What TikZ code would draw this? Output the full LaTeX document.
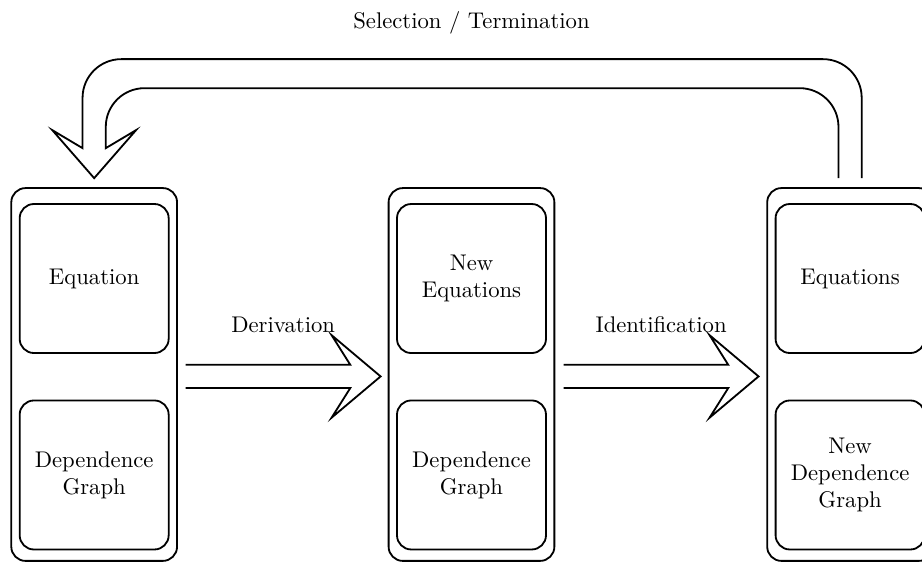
\documentclass[tikz,border=0pt]{standalone}
\usepackage{tikz}
\usetikzlibrary{calc}

\begin{document}
\begin{tikzpicture}[thick]
\tikzstyle{every node}+=[align=center]
\tikzset{
  frame/.style={draw, rounded corners=0.22cm, minimum width=2.57cm, minimum height=5.78cm},
  part/.style={draw, rounded corners=0.22cm, minimum width=2.31cm, minimum height=2.31cm},
  fatarrow/.style={to path={
    ($(\tikztostart)+(0,0.18)$) -- ($(\tikztotarget)+(-0.47,0.18)$)
    -- ($(\tikztotarget)+(-0.76,0.64)$) -- (\tikztotarget)
    -- ($(\tikztotarget)+(-0.76,-0.64)$) -- ($(\tikztotarget)+(-0.47,-0.18)$)
    -- ($(\tikztostart)+(0,-0.18)$)}}
}
\path [use as bounding box, clip] (0,0) rectangle (14.295,-8.729);
% the three stages
\node [frame] (lfr) at (1.46,-5.806) {};
\node [part] (leq) at (1.46,-4.318) {Equation};
\node [part] (ldg) at (1.46,-7.364) {Dependence\\Graph};
\node [frame] (mfr) at (7.31,-5.806) {};
\node [part] (meq) at (7.31,-4.318) {New\\Equations};
\node [part] (mdg) at (7.31,-7.364) {Dependence\\Graph};
\node [frame] (rfr) at (13.18,-5.806) {};
\node [part] (req) at (13.18,-4.318) {Equations};
\node [part] (rdg) at (13.18,-7.364) {New\\Dependence\\Graph};
% derivation and identification
\coordinate (der1) at ($(lfr.east)+(0.12,-0.03)$);
\coordinate (der2) at ($(mfr.west)+(-0.11,-0.03)$);
\draw [fatarrow] (der1) to (der2);
\node (derlab) at ($(der1)!0.5!(der2)+(0,0.8)$) {Derivation};
\coordinate (idf1) at ($(mfr.east)+(0.13,-0.03)$);
\coordinate (idf2) at ($(rfr.west)+(-0.12,-0.03)$);
\draw [fatarrow] (idf1) to (idf2);
\node (idflab) at ($(idf1)!0.5!(idf2)+(0,0.8)$) {Identification};
% selection / termination, back to the start
\coordinate (selfrom) at ($(rfr.north)+(0,0.14)$);
\coordinate (selto) at ($(lfr.north)+(0,0.14)$);
\draw ($(selfrom)+(0.18,0)$) [rounded corners=0.6cm] |- ($(selto)+(-0.18,1.845)$)
  [sharp corners] -- ($(selto)+(-0.18,0.465)$)
  -- ($(selto)+(-0.65,0.745)$) -- (selto) -- ($(selto)+(0.65,0.745)$)
  -- ($(selto)+(0.18,0.465)$)
  [rounded corners=0.6cm] |- ($(selfrom)+(-0.18,1.395)$) -- ($(selfrom)+(-0.18,0)$);
\node (sellab) at (7.31,-0.36) {Selection / Termination};
\end{tikzpicture}
\end{document}
